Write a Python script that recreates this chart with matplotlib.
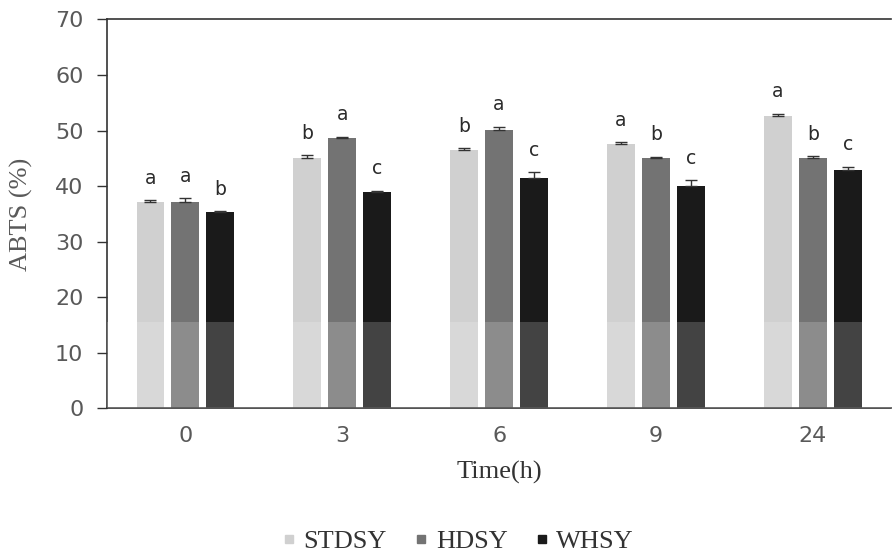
import matplotlib

matplotlib.use("Agg")
import matplotlib.pyplot as plt
import numpy as np

times = ["0", "3", "6", "9", "24"]
series = ["STDSY", "HDSY", "WHSY"]
stdsy = [37.2, 45.1, 46.5, 47.6, 52.7]
hdsy = [37.2, 48.7, 50.1, 45.1, 45.1]
whsy = [35.3, 38.9, 41.5, 40.1, 42.9]
stdsy_err = [0.3, 0.5, 0.3, 0.3, 0.3]
hdsy_err = [0.6, 0.2, 0.6, 0.2, 0.3]
whsy_err = [0.2, 0.3, 1.0, 1.0, 0.6]
stdsy_sig = ["a", "b", "b", "a", "a"]
hdsy_sig = ["a", "a", "a", "b", "b"]
whsy_sig = ["b", "c", "c", "c", "c"]
y_ticks = [0, 10, 20, 30, 40, 50, 60, 70]

colors = ["#d0d0d0", "#737373", "#1a1a1a"]
values = [stdsy, hdsy, whsy]
errors = [stdsy_err, hdsy_err, whsy_err]
letters = [stdsy_sig, hdsy_sig, whsy_sig]

fig = plt.figure(figsize=(8.92, 5.57), dpi=100)
ax = fig.add_axes([0.12, 0.267, 0.879, 0.698])

x = np.arange(len(times))
offsets = [-0.223, 0.0, 0.223]
width = 0.178
handles = []
for vals, errs, sig, off, col, name in zip(values, errors, letters, offsets, colors, series):
    pos = x + off
    ax.bar(pos, vals, width=width, color=col, zorder=2)
    ax.errorbar(pos, vals, yerr=[np.zeros(len(errs)), errs], fmt="none",
                ecolor="#333333", elinewidth=1, capsize=4, capthick=1, zorder=3)
    for px, v, e, s in zip(pos, vals, errs, sig):
        ax.annotate(s, (px, v + e), xytext=(0, 9), textcoords="offset points",
                    ha="center", va="bottom", fontsize=13.5, color="#2a2a2a",
                    family="DejaVu Sans")
    handles.append(plt.Line2D([], [], marker="s", linestyle="none",
                              markersize=6, color=col, label=name))

# lighter band at the bottom of the scanned figure
ax.axhspan(0, 15.5, color="white", alpha=0.18, zorder=4, lw=0)

ax.set_xlim(-0.5, len(times) - 0.5)
ax.set_ylim(0, 70)
ax.set_yticks(y_ticks)
ax.set_xticks(x)
ax.set_xticklabels(times)
ax.tick_params(axis="y", direction="out", length=7, width=1, colors="#333333",
               labelsize=16, labelcolor="#595959", pad=10)
ax.tick_params(axis="x", length=0, labelsize=16, labelcolor="#595959", pad=13)
for lab in ax.get_xticklabels() + ax.get_yticklabels():
    lab.set_family("DejaVu Sans")

ax.spines["right"].set_visible(False)
for side in ("left", "bottom", "top"):
    ax.spines[side].set_color("#333333")
    ax.spines[side].set_linewidth(1.2)

ax.set_ylabel("ABTS (%)", fontsize=19, family="Liberation Serif", color="#595959")
ax.yaxis.set_label_coords(-0.094, 0.5)
ax.set_xlabel("Time(h)", fontsize=19, family="Liberation Serif", color="#333333")
ax.xaxis.set_label_coords(0.5, -0.136)

fig.legend(handles=handles, loc="center", bbox_to_anchor=(0.51, 0.028),
           ncol=3, frameon=False, handletextpad=0.05, handlelength=1.0,
           columnspacing=0.8, labelcolor="#333333",
           prop={"family": "Liberation Serif", "size": 19})

fig.savefig("out.png", dpi=100)
